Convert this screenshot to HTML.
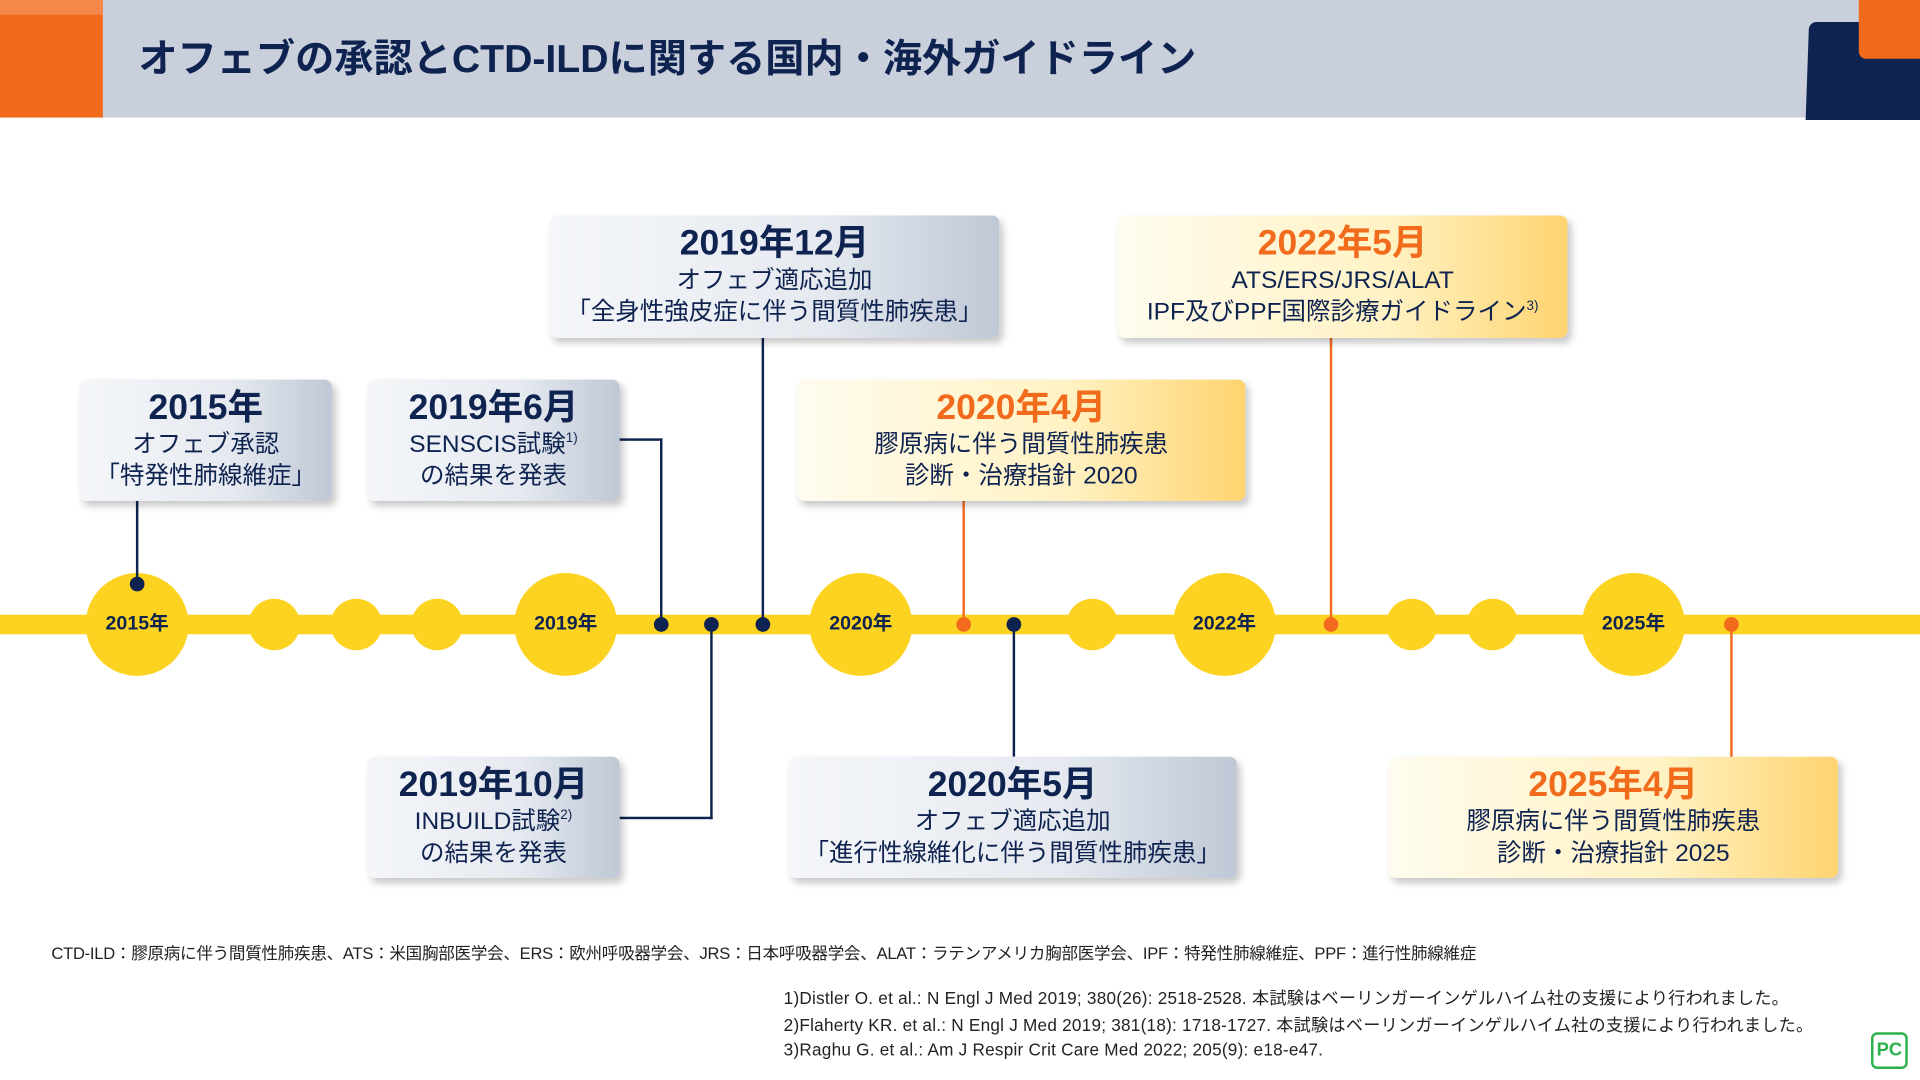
<!DOCTYPE html>
<html><head><meta charset="utf-8"><style>
html,body{margin:0;padding:0;width:1920px;height:1080px;overflow:hidden;background:#fff}
#w{position:absolute;left:0;top:0;width:1568px;height:882px;transform:scale(1.22449);transform-origin:0 0;font-family:"Liberation Sans","Noto Sans CJK JP",sans-serif;color:#0f2350}
.a{position:absolute}
.box{position:absolute;border-radius:6px;box-shadow:3px 4px 6px rgba(0,0,0,.22);text-align:center;box-sizing:border-box;padding-top:6px}
.g{background:linear-gradient(90deg,#f4f6f9 0%,#e6eaf0 60%,#bfc8d6 100%)}
.y{background:linear-gradient(90deg,#fffcef 0%,#fff2c4 60%,#ffd470 100%)}
.t{font-size:29px;font-weight:bold;line-height:34px}
.o{color:#f26b1d}
.l{font-size:20px;line-height:26px;height:26px;overflow:visible}
.big{position:absolute;width:84px;height:84px;border-radius:50%;background:#fdd321;top:468px;font-size:16px;font-weight:bold;line-height:84px;text-align:center}
.sm{position:absolute;width:42px;height:42px;border-radius:50%;background:#fdd321;top:489px}
.d{position:absolute;width:12px;height:12px;border-radius:50%;background:#0f2350}
.do{background:#f26b1d}
.v{position:absolute;width:2px;background:#0f2350}
.h{position:absolute;height:2px;background:#0f2350}
.vo{background:#f26b1d}
sup{font-size:11px;line-height:0;vertical-align:8px}
.f{position:absolute;font-size:14px;color:#222;white-space:nowrap}
</style></head><body><div id="w">
<div class="a" style="left:0;top:0;width:1568px;height:96px;background:#c9d0dc"></div>
<div class="a" style="left:0;top:0;width:84px;height:96px;background:#f26b1d"></div>
<div class="a" style="left:0;top:0;width:84px;height:12px;background:#f5884a"></div>
<div class="a" style="left:113px;top:28px;font-size:32px;font-weight:bold;white-space:nowrap;line-height:40px">オフェブの承認とCTD-ILDに関する国内・海外ガイドライン</div>
<div class="a" style="left:1476px;top:18px;width:100px;height:80px;background:#0f2350;border-radius:6px 0 0 0;transform:skewX(-2deg)"></div>
<div class="a" style="left:1518px;top:-6px;width:56px;height:54px;background:#f26b1d;border-radius:6px"></div>

<div class="a" style="left:0;top:502px;width:1568px;height:16px;background:#fdd321"></div>
<div class="big" style="left:70px">2015年</div>
<div class="big" style="left:420px">2019年</div>
<div class="big" style="left:661px">2020年</div>
<div class="big" style="left:958px">2022年</div>
<div class="big" style="left:1292px">2025年</div>
<div class="sm" style="left:203px"></div><div class="sm" style="left:270px"></div><div class="sm" style="left:336px"></div>
<div class="sm" style="left:871px"></div><div class="sm" style="left:1132px"></div><div class="sm" style="left:1198px"></div>

<div class="v" style="left:111px;top:409px;height:68px"></div>
<div class="h" style="left:506px;top:358px;width:35px"></div><div class="v" style="left:539px;top:358px;height:152px"></div>
<div class="v" style="left:622px;top:276px;height:234px"></div>
<div class="h" style="left:506px;top:667px;width:76px"></div><div class="v" style="left:580px;top:510px;height:159px"></div>
<div class="v" style="left:827px;top:510px;height:108px"></div>
<div class="v vo" style="left:786px;top:409px;height:101px"></div>
<div class="v vo" style="left:1086px;top:276px;height:234px"></div>
<div class="v vo" style="left:1413px;top:510px;height:108px"></div>

<div class="d" style="left:106px;top:471px"></div>
<div class="d" style="left:534px;top:504px"></div><div class="d" style="left:575px;top:504px"></div>
<div class="d" style="left:617px;top:504px"></div><div class="d" style="left:822px;top:504px"></div>
<div class="d do" style="left:781px;top:504px"></div><div class="d do" style="left:1081px;top:504px"></div><div class="d do" style="left:1408px;top:504px"></div>

<div class="box g" style="left:65px;top:310px;width:206px;height:99px"><div class="t">2015年</div><div class="l">オフェブ承認</div><div class="l">「特発性肺線維症」</div></div>
<div class="box g" style="left:300px;top:310px;width:206px;height:99px"><div class="t">2019年6月</div><div class="l">SENSCIS試験<sup>1)</sup></div><div class="l">の結果を発表</div></div>
<div class="box g" style="left:449px;top:176px;width:367px;height:100px"><div class="t">2019年12月</div><div class="l">オフェブ適応追加</div><div class="l">「全身性強皮症に伴う間質性肺疾患」</div></div>
<div class="box y" style="left:651px;top:310px;width:366px;height:99px"><div class="t o">2020年4月</div><div class="l">膠原病に伴う間質性肺疾患</div><div class="l">診断・治療指針 2020</div></div>
<div class="box y" style="left:913px;top:176px;width:367px;height:100px"><div class="t o">2022年5月</div><div class="l">ATS/ERS/JRS/ALAT</div><div class="l">IPF及びPPF国際診療ガイドライン<sup>3)</sup></div></div>
<div class="box g" style="left:300px;top:618px;width:206px;height:99px"><div class="t">2019年10月</div><div class="l">INBUILD試験<sup>2)</sup></div><div class="l">の結果を発表</div></div>
<div class="box g" style="left:644px;top:618px;width:366px;height:99px"><div class="t">2020年5月</div><div class="l">オフェブ適応追加</div><div class="l">「進行性線維化に伴う間質性肺疾患」</div></div>
<div class="box y" style="left:1134px;top:618px;width:367px;height:99px"><div class="t o">2025年4月</div><div class="l">膠原病に伴う間質性肺疾患</div><div class="l">診断・治療指針 2025</div></div>

<div class="f" style="left:42px;top:767px;font-size:13.5px;letter-spacing:-0.2px">CTD-ILD：膠原病に伴う間質性肺疾患、ATS：米国胸部医学会、ERS：欧州呼吸器学会、JRS：日本呼吸器学会、ALAT：ラテンアメリカ胸部医学会、IPF：特発性肺線維症、PPF：進行性肺線維症</div>
<div class="f" style="left:640px;top:805px;letter-spacing:0.2px">1)Distler O. et al.: N Engl J Med 2019; 380(26): 2518-2528. 本試験はベーリンガーインゲルハイム社の支援により行われました。</div>
<div class="f" style="left:640px;top:827px;letter-spacing:0.2px">2)Flaherty KR. et al.: N Engl J Med 2019; 381(18): 1718-1727. 本試験はベーリンガーインゲルハイム社の支援により行われました。</div>
<div class="f" style="left:640px;top:849px;letter-spacing:0.2px">3)Raghu G. et al.: Am J Respir Crit Care Med 2022; 205(9): e18-e47.</div>
<div class="a" style="left:1528px;top:843px;width:26px;height:26px;border:2px solid #2bb24c;border-radius:5px;color:#2bb24c;font-weight:bold;font-size:15px;line-height:26px;text-align:center">PC</div>
</div></body></html>
